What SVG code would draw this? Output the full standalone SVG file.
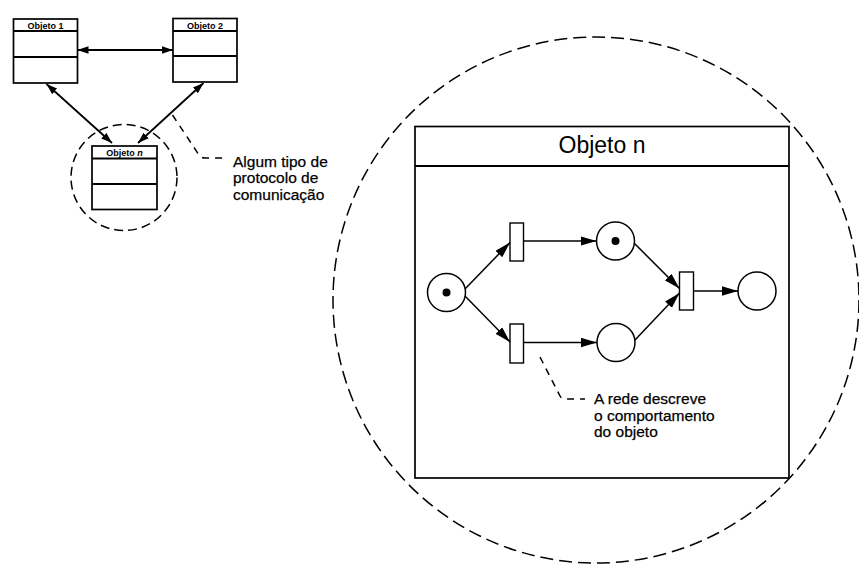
<svg xmlns="http://www.w3.org/2000/svg" width="859" height="567" viewBox="0 0 859 567">
<defs>
<style>
.box{fill:none;stroke:#000;stroke-width:1.7}
.ln{fill:none;stroke:#000;stroke-width:1.8}
.arc{fill:none;stroke:#000;stroke-width:1.5}
.dash{fill:none;stroke:#000;stroke-width:1.5}
.pl{fill:#fff;stroke:#000;stroke-width:1.5}
.tr{fill:#fff;stroke:#000;stroke-width:1.4}
.tok{fill:#000}
.t{font-family:"Liberation Sans",Arial,sans-serif;fill:#000}
.st{font-size:9px;font-weight:bold}
.ann{font-size:15.5px;stroke:#000;stroke-width:0.25}
.big{font-size:23px}
</style>
<marker id="ah" markerUnits="userSpaceOnUse" markerWidth="16" markerHeight="10" refX="16" refY="4.7" orient="auto">
<path d="M0,0 L16,4.7 L0,9.4 z" fill="#000"/>
</marker>
<marker id="sa" markerUnits="userSpaceOnUse" markerWidth="11" markerHeight="8" refX="11" refY="3.8" orient="auto-start-reverse">
<path d="M0,0 L11,3.8 L0,7.6 z" fill="#000"/>
</marker>
</defs>
<rect width="859" height="567" fill="#fff"/>

<g id="big-circle">
<circle cx="596" cy="300" r="263" class="dash" stroke-dasharray="13 6"/>
</g>

<g id="small-circle">
<circle cx="124" cy="177.5" r="53" class="dash" stroke-dasharray="9 5"/>
</g>

<g id="objeto1">
<rect x="13.5" y="19" width="64" height="64" class="box"/>
<line x1="13.5" y1="31" x2="77.5" y2="31" class="ln"/>
<line x1="13.5" y1="57" x2="77.5" y2="57" class="ln"/>
<text x="45.5" y="28.5" text-anchor="middle" class="t st">Objeto 1</text>
</g>

<g id="objeto2">
<rect x="173" y="18.5" width="64" height="63.5" class="box"/>
<line x1="173" y1="31" x2="237" y2="31" class="ln"/>
<line x1="173" y1="56" x2="237" y2="56" class="ln"/>
<text x="205" y="28.5" text-anchor="middle" class="t st">Objeto 2</text>
</g>

<g id="objeton-small">
<rect x="92" y="146" width="65" height="63.5" class="box"/>
<line x1="92" y1="158.5" x2="157" y2="158.5" class="ln"/>
<line x1="92" y1="184" x2="157" y2="184" class="ln"/>
<text x="124.5" y="156" text-anchor="middle" class="t st">Objeto <tspan font-style="italic">n</tspan></text>
</g>

<g id="objeton-big">
<rect x="415" y="126.5" width="374" height="351.5" class="box"/>
<line x1="415" y1="166" x2="789" y2="166" class="ln"/>
<text x="602" y="153" text-anchor="middle" class="t big">Objeto n</text>
</g>

<g id="places">
<circle id="p1" cx="446.5" cy="292.5" r="19" class="pl"/>
<circle cx="446.5" cy="292.5" r="4" class="tok"/>
<circle id="p2" cx="615.5" cy="241" r="19" class="pl"/>
<circle cx="615.5" cy="241" r="4" class="tok"/>
<circle id="p3" cx="616" cy="342.5" r="19" class="pl"/>
<circle id="p4" cx="757" cy="291" r="19" class="pl"/>
</g>

<g id="transitions">
<rect id="t1" x="510" y="223" width="13.5" height="38" class="tr"/>
<rect id="t2" x="510" y="324" width="13.5" height="39" class="tr"/>
<rect id="t3" x="679.5" y="272" width="14" height="38" class="tr"/>
</g>

<g id="connectors">
<line x1="77.5" y1="50" x2="173" y2="50" class="ln" marker-start="url(#sa)" marker-end="url(#sa)"/>
<line x1="46.5" y1="84" x2="112" y2="143" class="ln" marker-start="url(#sa)" marker-end="url(#sa)"/>
<line x1="203.5" y1="83" x2="138" y2="143" class="ln" marker-start="url(#sa)" marker-end="url(#sa)"/>
<path d="M172.5,115 L199,155 Q201,158 205,158 L225,158" class="dash" stroke-dasharray="7 6"/>

<line x1="465" y1="289" x2="510" y2="242.5" class="arc" marker-end="url(#ah)"/>
<line x1="465" y1="296" x2="510" y2="342" class="arc" marker-end="url(#ah)"/>
<line x1="523.5" y1="241" x2="596.5" y2="241" class="arc" marker-end="url(#ah)"/>
<line x1="523.5" y1="342.5" x2="597" y2="342.5" class="arc" marker-end="url(#ah)"/>
<line x1="634.5" y1="243.5" x2="679.5" y2="288.5" class="arc" marker-end="url(#ah)"/>
<line x1="635" y1="340" x2="679.5" y2="293" class="arc" marker-end="url(#ah)"/>
<line x1="693.5" y1="291" x2="738" y2="291" class="arc" marker-end="url(#ah)"/>
<path d="M540,357 L560,396 Q561.5,399 565,399 L585,399" class="dash" stroke-dasharray="7 6"/>
</g>

<g id="labels">
<text class="t ann" x="233" y="166.5">Algum tipo de</text>
<text class="t ann" x="233" y="183">protocolo de</text>
<text class="t ann" x="233" y="199.5">comunicação</text>
<text class="t ann" x="594" y="404">A rede descreve</text>
<text class="t ann" x="594" y="420.5">o comportamento</text>
<text class="t ann" x="594" y="437">do objeto</text>
</g>
</svg>
